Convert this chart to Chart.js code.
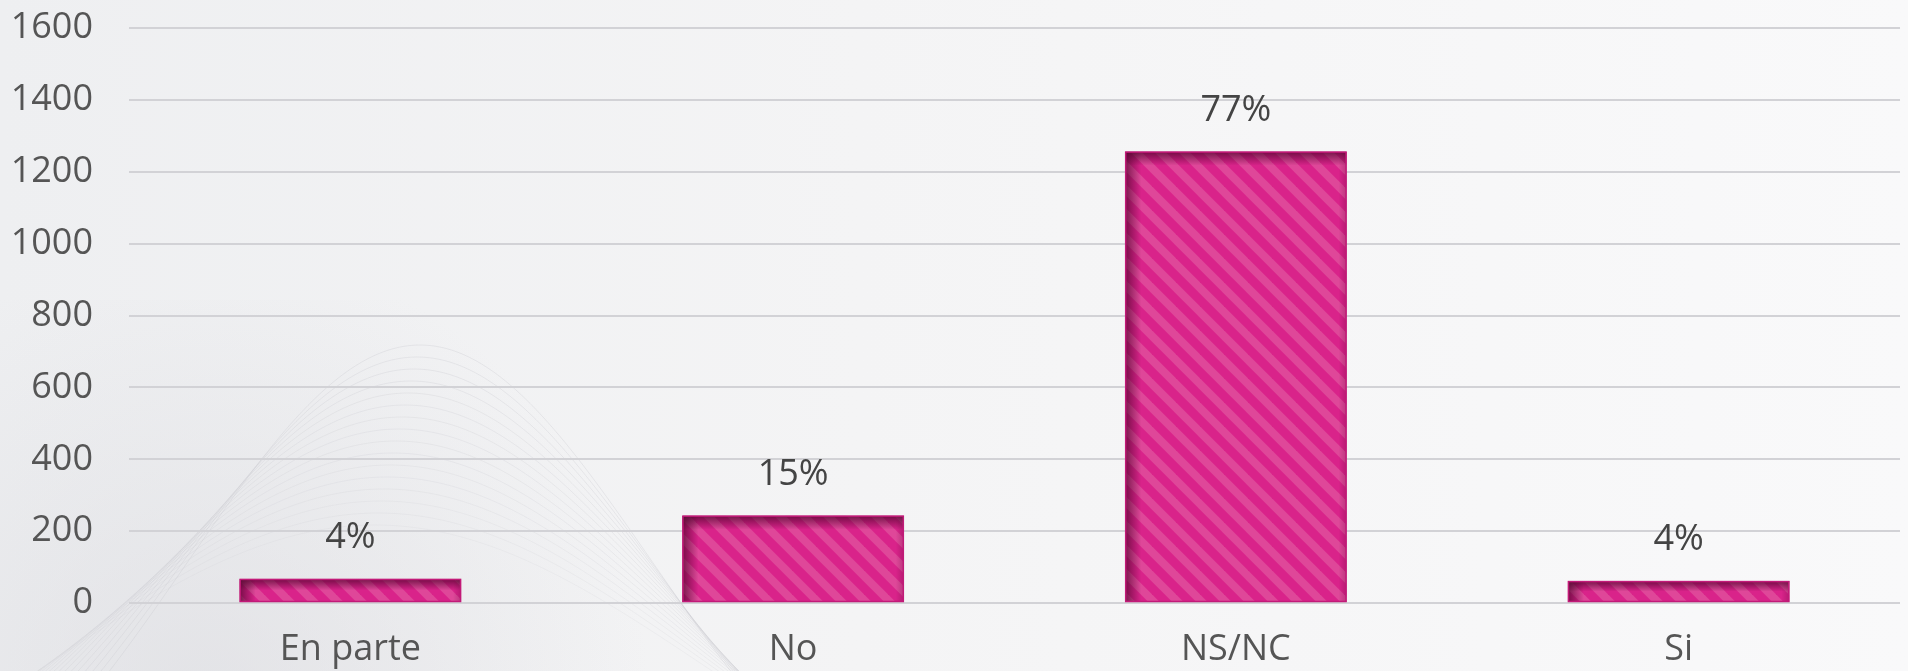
<!DOCTYPE html>
<html>
<head>
<meta charset="utf-8">
<script src="https://cdn.jsdelivr.net/npm/chart.js@4/dist/chart.umd.min.js"></script>
<style>
  html, body { margin: 0; padding: 0; background: #f4f4f5; }
  #wrap { width: 1908px; height: 671px; position: relative; }
</style>
</head>
<body>
<div id="wrap"><canvas id="c" width="1908" height="671"></canvas></div>
<script>
const categories = ["En parte", "No", "NS/NC", "Si"];
const counts = [67, 243, 1256, 61];
const percentLabels = ["4%", "15%", "77%", "4%"];
const yTicks = [0, 200, 400, 600, 800, 1000, 1200, 1400, 1600];

const FONT = "'Open Sans', Lato, 'Noto Sans', sans-serif";

function makePattern() {
  const p = document.createElement('canvas');
  const s = 24;
  p.width = s; p.height = s;
  const g = p.getContext('2d');
  g.fillStyle = '#d9238a';
  g.fillRect(0, 0, s, s);
  g.strokeStyle = '#df4799';
  g.lineWidth = 8;
  g.lineCap = 'butt';
  for (const x0 of [-2 * s, -s, 0, s]) {
    g.beginPath();
    g.moveTo(x0 - s, -s);
    g.lineTo(x0 + 2 * s, 2 * s);
    g.stroke();
  }
  return g.createPattern(p, 'repeat');
}

const bgPlugin = {
  id: 'bg',
  beforeDraw(chart) {
    const ctx = chart.ctx;
    const W = chart.width, H = chart.height;
    ctx.save();
    const grd = ctx.createLinearGradient(0, 0, W, 0);
    grd.addColorStop(0, '#eeeff1');
    grd.addColorStop(0.45, '#f4f4f5');
    grd.addColorStop(1, '#f9f9fa');
    ctx.fillStyle = grd;
    ctx.fillRect(0, 0, W, H);
    const rg = ctx.createRadialGradient(200, 700, 20, 200, 700, 450);
    rg.addColorStop(0, 'rgba(215,215,220,0.5)');
    rg.addColorStop(1, 'rgba(215,215,220,0)');
    ctx.fillStyle = rg;
    ctx.fillRect(0, 300, 900, H - 300);
    ctx.lineWidth = 1;
    for (let i = 0; i < 16; i++) {
      const peak = 345 + i * 12;
      const base = 900;
      const w = 330 + i * 10;
      const cx = 420 - i * 3;
      ctx.strokeStyle = 'rgba(200,200,206,' + (0.32 - i * 0.01) + ')';
      ctx.beginPath();
      for (let x = -100; x <= 1100; x += 6) {
        const y = base - (base - peak) * Math.exp(-Math.pow((x - cx) / w, 2));
        if (x === -100) ctx.moveTo(x, y); else ctx.lineTo(x, y);
      }
      ctx.stroke();
    }
    ctx.restore();
  }
};

const shadePlugin = {
  id: 'shade',
  afterDatasetsDraw(chart) {
    const ctx = chart.ctx;
    const meta = chart.getDatasetMeta(0);
    meta.data.forEach((bar) => {
      const left = bar.x - bar.width / 2;
      const right = bar.x + bar.width / 2;
      const top = bar.y;
      const bottom = bar.base;
      const h = bottom - top;
      ctx.save();
      ctx.beginPath();
      ctx.rect(left, top, right - left, h);
      ctx.clip();
      const sTop = Math.min(14, h / 2);
      let g = ctx.createLinearGradient(0, top, 0, top + sTop);
      g.addColorStop(0, 'rgba(80,5,45,0.75)');
      g.addColorStop(1, 'rgba(80,5,45,0)');
      ctx.fillStyle = g;
      ctx.fillRect(left, top, right - left, sTop);
      g = ctx.createLinearGradient(left, 0, left + 16, 0);
      g.addColorStop(0, 'rgba(80,5,45,0.7)');
      g.addColorStop(1, 'rgba(80,5,45,0)');
      ctx.fillStyle = g;
      ctx.fillRect(left, top, 16, h);
      g = ctx.createLinearGradient(right, 0, right - 8, 0);
      g.addColorStop(0, 'rgba(80,5,45,0.25)');
      g.addColorStop(1, 'rgba(80,5,45,0)');
      ctx.fillStyle = g;
      ctx.fillRect(right - 8, top, 8, h);
      ctx.restore();
      ctx.save();
      ctx.strokeStyle = '#c21a78';
      ctx.lineWidth = 1.5;
      ctx.strokeRect(left + 0.5, top + 0.5, right - left - 1, h - 1);
      ctx.restore();
    });
  }
};

const valueLabelPlugin = {
  id: 'valueLabels',
  afterDatasetsDraw(chart) {
    const ctx = chart.ctx;
    const meta = chart.getDatasetMeta(0);
    ctx.save();
    ctx.font = "36px " + FONT;
    ctx.fillStyle = '#444444';
    ctx.textAlign = 'center';
    ctx.textBaseline = 'middle';
    meta.data.forEach((bar, i) => {
      ctx.fillText(percentLabels[i], bar.x, bar.y - 41);
    });
    ctx.restore();
  }
};

new Chart(document.getElementById('c'), {
  type: 'bar',
  data: {
    labels: categories,
    datasets: [{
      data: counts,
      backgroundColor: makePattern(),
      borderWidth: 0,
      barPercentage: 0.5,
      categoryPercentage: 1.0
    }]
  },
  options: {
    responsive: false,
    animation: false,
    devicePixelRatio: 1,
    layout: { padding: { top: 28, right: 8, left: 0, bottom: 0 } },
    plugins: { legend: { display: false }, tooltip: { enabled: false } },
    scales: {
      x: {
        grid: { display: false, drawTicks: false },
        border: { display: false },
        afterFit(axis) { axis.height = 68; axis.paddingLeft = 0; axis.paddingRight = 0; },
        ticks: { color: '#555555', font: { family: FONT, size: 36 }, padding: 25, maxRotation: 0, autoSkip: false }
      },
      y: {
        min: 0, max: 1600,
        afterBuildTicks(axis) { axis.ticks = yTicks.map(v => ({ value: v })); },
        afterFit(axis) { axis.width = 129; axis.paddingTop = 0; axis.paddingBottom = 0; },
        grid: { color: '#d2d2d6', lineWidth: 2, drawTicks: false },
        border: { display: false },
        ticks: {
          color: '#555555', font: { family: FONT, size: 36 }, padding: 36,
          callback: (v) => String(v)
        }
      }
    }
  },
  plugins: [bgPlugin, shadePlugin, valueLabelPlugin]
});
</script>
</body>
</html>
